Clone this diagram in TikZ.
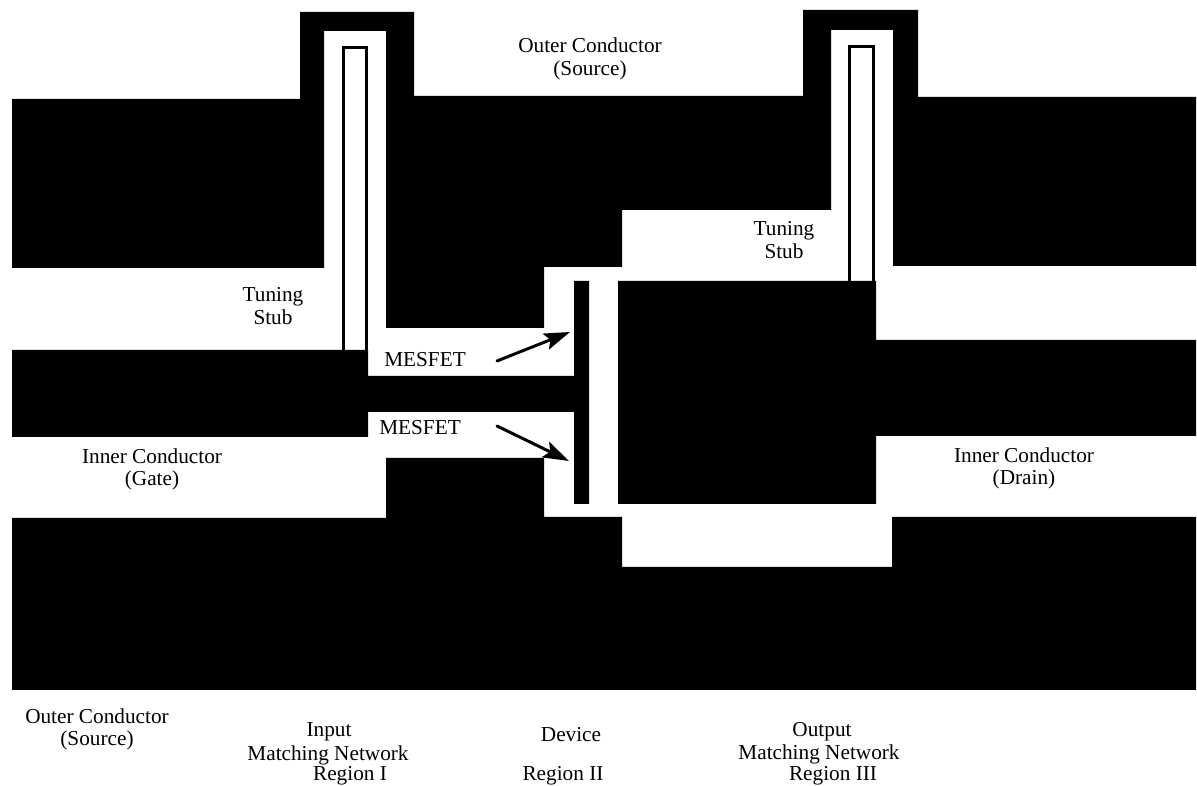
\documentclass[tikz,border=0pt]{standalone}
\usepackage{fontspec}
\setmainfont{Liberation Serif}
\usetikzlibrary{arrows.meta}
\tikzset{
	metal/.style={fill=black, draw=none},
	stubline/.style={line width=0.05cm, color=black},
	lbl/.style={inner sep=0pt, align=center, font=\fontsize{12.1}{13}\selectfont},
	tightlbl/.style={lbl, font=\fontsize{12.1}{12.4}\selectfont},
	pointer/.style={line width=0.06cm, line cap=round, -{Stealth[length=0.52cm, width=0.34cm, inset=0.1cm]}}
}

\begin{document}
\begin{tikzpicture}[x=0.02cm, y=-0.02cm]
	%%%%% START %%%%%
	\useasboundingbox (0, 0) rectangle (1197, 786);
	
	% outer conductor, upper part
	\fill[metal] (12, 99) -- (300, 99) -- (300, 12) -- (414, 12) -- (414, 96) -- (803, 96) -- (803, 10) -- (918, 10) -- (918, 97) -- (1196, 97) -- (1196, 266) -- (893, 266) -- (893, 30) -- (831, 30) -- (831, 210) -- (622, 210) -- (622, 267) -- (544, 267) -- (544, 328) -- (386, 328) -- (386, 31) -- (324, 31) -- (324, 268) -- (12, 268) -- cycle;
	
	% outer conductor, lower part
	\fill[metal] (12, 518) -- (386, 518) -- (386, 458) -- (544, 458) -- (544, 517) -- (622, 517) -- (622, 567) -- (892, 567) -- (892, 517) -- (1196, 517) -- (1196, 690) -- (12, 690) -- cycle;
	
	% gate side
	\fill[metal] (12, 350) -- (368, 350) -- (368, 376) -- (574, 376) -- (574, 281) -- (589, 281) -- (589, 504) -- (574, 504) -- (574, 412) -- (368, 412) -- (368, 437) -- (12, 437) -- cycle;
	
	% drain side
	\fill[metal] (618, 281) -- (876, 281) -- (876, 340) -- (1196, 340) -- (1196, 436) -- (876, 436) -- (876, 504) -- (618, 504) -- cycle;
	
	% tuning stubs
	\draw[stubline] (343.5, 350) -- (343.5, 47.5) -- (366.5, 47.5) -- (366.5, 350);
	\draw[stubline] (849.5, 281) -- (849.5, 46.5) -- (873.5, 46.5) -- (873.5, 281);
	
	% labels
	\node[lbl] (outertop) at (590, 59) {Outer Conductor\\(Source)};
	\node[lbl] (stubleft) at (273, 306) {Tuning\\Stub};
	\node[lbl] (stubright) at (784, 240) {Tuning\\Stub};
	\node[lbl] (fetupper) at (425, 360) {MESFET};
	\node[lbl] (fetlower) at (420, 428) {MESFET};
	\node[tightlbl] (gatelbl) at (152, 469) {Inner Conductor\\(Gate)};
	\node[tightlbl] (drainlbl) at (1024, 468) {Inner Conductor\\(Drain)};
	\node[tightlbl] (outerbot) at (97, 729) {Outer Conductor\\(Source)};
	\node[lbl] (inputlbl) at (329, 732) {Input};
	\node[lbl] (matchin) at (328, 755) {Matching Network};
	\node[lbl] (regionone) at (350, 776) {Region I};
	\node[lbl] (devicelbl) at (571, 735) {Device};
	\node[lbl] (regiontwo) at (563, 776) {Region II};
	\node[lbl] (outputlbl) at (822, 732) {Output};
	\node[lbl] (matchout) at (819, 754) {Matching Network};
	\node[lbl] (regionthree) at (833, 776) {Region III};
	
	% pointers
	\coordinate (upperfrom) at (497, 361);
	\coordinate (upperto) at (570, 332);
	\coordinate (lowerfrom) at (497, 426);
	\coordinate (lowerto) at (569, 461);
	\draw[pointer] (upperfrom) -- (upperto);
	\draw[pointer] (lowerfrom) -- (lowerto);
	%%%%% END %%%%%
\end{tikzpicture}
\end{document}
